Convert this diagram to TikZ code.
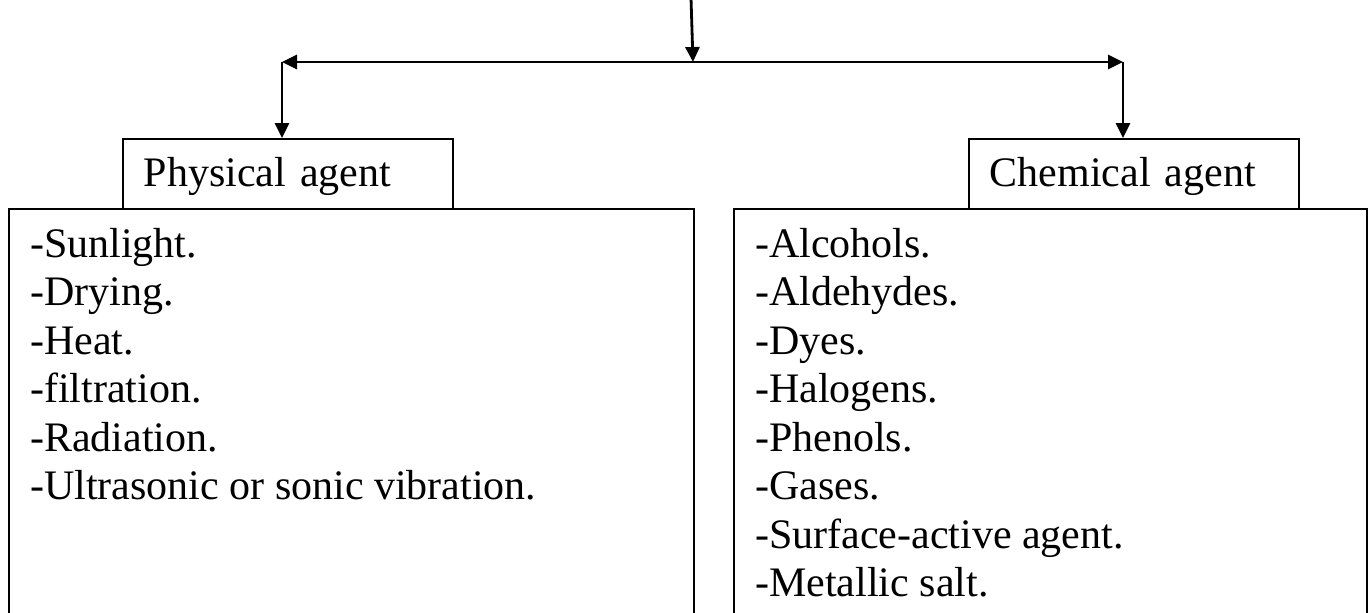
\documentclass[tikz,border=0pt]{standalone}
\usepackage{fontspec}
\setmainfont{Liberation Serif}
\usepackage{tikz}
\usetikzlibrary{arrows.meta,positioning}
\tikzset{
  >={Triangle[length=15pt,width=14pt]},
  flow/.style={->,line width=2.8pt,draw=black},
  base/.style={draw=black,line width=1.8pt,font=\fontsize{42}{48.5}\selectfont},
  head/.style={base,anchor=north west,text width=288pt,align=left,inner xsep=21pt,minimum height=70pt,text depth=4pt},
  panel/.style={draw=black,line width=1.8pt,anchor=north west,minimum height=440pt},
  items/.style={inner sep=0pt,align=left,font=\fontsize{42}{48.5}\selectfont}
}
\begin{document}
\begin{tikzpicture}[x=1pt,y=-1pt]
  \useasboundingbox (0,0) rectangle (1371,613);
  \clip (0,0) rectangle (1371,613);
  % open boxes with the lists
  \node[panel,minimum width=685pt] (physbox) at (8,208) {};
  \node[panel,minimum width=633pt] (chembox) at (733,208) {};
  \node[head] (phys) at (122,138) {Physical agent};
  \node[head] (chem) at (968,138) {Chemical agent};
  \node[items,below right=20pt and 22pt of physbox.north west] (physlist)
    {-Sunlight.\\-Drying.\\-Heat.\\-filtration.\\-Radiation.\\-Ultrasonic or sonic vibration.};
  \node[items,below right=20pt and 22pt of chembox.north west] (chemlist)
    {-Alcohols.\\-Aldehydes.\\-Dyes.\\-Halogens.\\-Phenols.\\-Gases.\\-Surface-active agent.\\-Metallic salt.};
  % arrows
  \coordinate (src) at (691,-2);
  \coordinate (hub) at (693,62);
  \coordinate (lc) at (282,62);
  \coordinate (rc) at (1123,62);
  \draw[flow] (src) -- (hub);
  \draw[flow] (hub) -- (lc);
  \draw[flow] (hub) -- (rc);
  \draw[flow] (lc) -- (lc |- phys.north);
  \draw[flow] (rc) -- (rc |- chem.north);
\end{tikzpicture}
\end{document}
